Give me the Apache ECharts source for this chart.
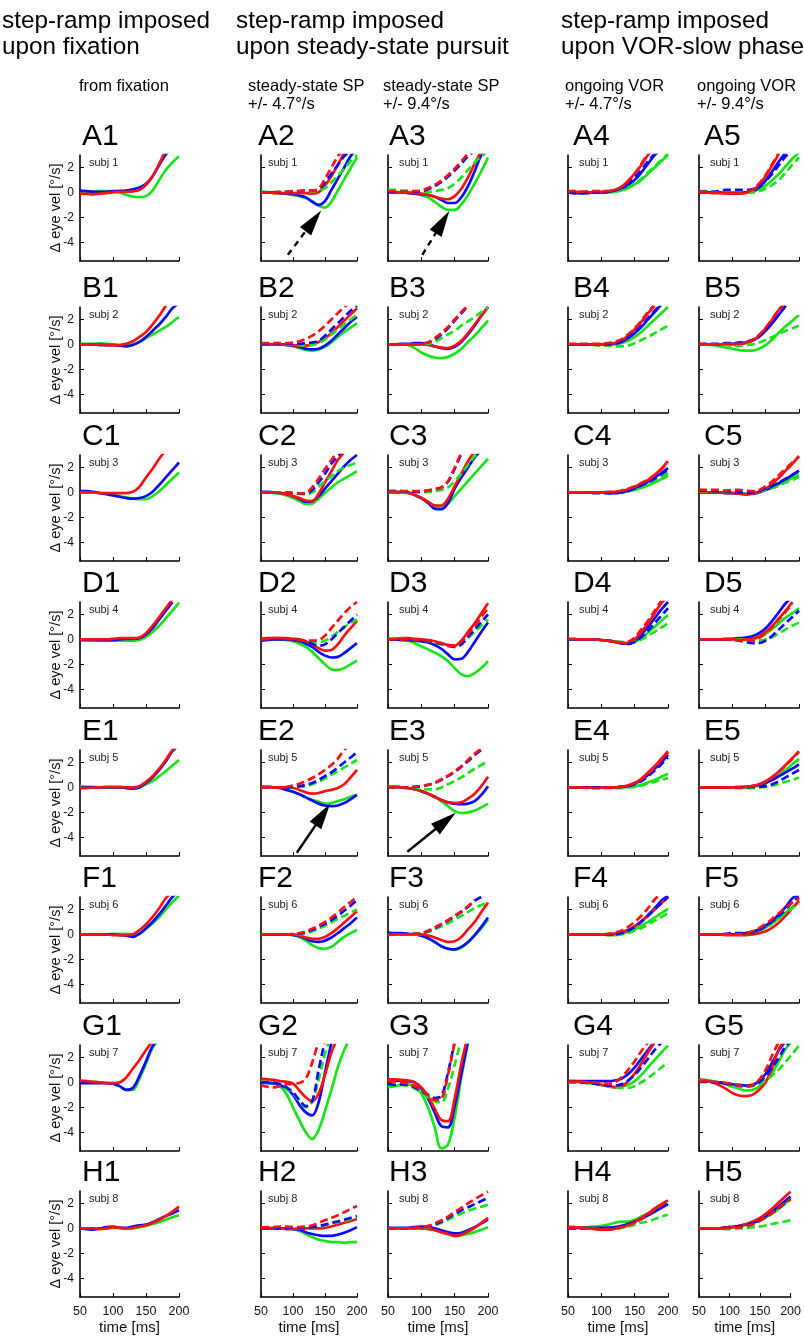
<!DOCTYPE html>
<html><head><meta charset="utf-8">
<script src="https://cdn.jsdelivr.net/npm/echarts@6/dist/echarts.min.js"></script>
<style>html,body{margin:0;padding:0;background:#fff}#c{width:804px;height:1336px}</style>
</head><body><div id="c"></div>
<script>
// ---------------- data ----------------
const timeMs = [50,60,70,80,90,100,110,120,130,140,150,160,170,180,190,200];
const xTickStep = 50;
const yTicks = [-4,-2,0,2];
const yRange = [-5.5, 3];
const rowLetters = ['A','B','C','D','E','F','G','H'];
const subjects = ['subj 1','subj 2','subj 3','subj 4','subj 5','subj 6','subj 7','subj 8'];
const headerTexts = [['step-ramp imposed','upon fixation'],['step-ramp imposed','upon steady-state pursuit'],['step-ramp imposed','upon VOR-slow phase']];
const subHeaderTexts = [['from fixation'],['steady-state SP','+/- 4.7°/s'],['steady-state SP','+/- 9.4°/s'],['ongoing VOR','+/- 4.7°/s'],['ongoing VOR','+/- 9.4°/s']];
const yName = 'Δ eye vel [°/s]';
const xName = 'time [ms]';
// line order: solid green, solid blue, solid red, dashed green, dashed blue, dashed red
const A1 = [
 [0.05,0.05,0.08,0.1,0.1,0.08,0,-0.2,-0.33,-0.38,-0.3,0.15,1.0,1.8,2.4,2.9],
 [0.15,0.1,0.05,0.05,0.05,0.1,0.12,0.15,0.25,0.4,0.7,1.3,2.2,3.05,3.6],
 [-0.1,-0.12,-0.15,-0.1,-0.05,0,0.05,0.05,0.08,0.2,0.6,1.3,2.3,3.4]];
const A2 = [
 [0,0,-0.05,-0.08,-0.12,-0.2,-0.3,-0.45,-0.7,-1.05,-1.22,-0.75,0.15,1.05,1.95,2.8],
 [0.05,0,0,-0.05,-0.1,-0.15,-0.25,-0.4,-0.75,-1.0,-0.7,0.2,1.1,2.0,2.9,3.5],
 [0,0,-0.05,-0.05,-0.05,-0.05,-0.05,-0.05,-0.1,0,0.55,1.3,2.2,3.2],
 [0.05,0.05,0.05,0.05,0.05,0.1,0.1,0.15,0.1,0.1,0.35,0.8,1.35,1.9,2.5,3.0],
 [0,0,0,0,0.05,0.05,0.1,0.15,0.15,0.25,0.8,1.5,2.2,2.9,3.4],
 [0,0,0,0.05,0.05,0.1,0.1,0.15,0.15,0.3,1.1,2.0,2.9,3.5]];
const A3 = [
 [0.05,0.05,0,0,-0.1,-0.2,-0.4,-0.75,-1.15,-1.4,-1.4,-0.95,-0.2,0.7,1.7,2.8],
 [0.05,0,0,-0.05,-0.1,-0.15,-0.2,-0.35,-0.6,-0.85,-0.85,-0.4,0.5,1.7,3.0,3.6],
 [0,0,0,0,-0.05,-0.1,-0.2,-0.35,-0.5,-0.55,-0.3,0.3,1.2,2.3,3.3],
 [0.2,0.2,0.15,0.15,0.1,0.05,0.05,0.1,0.2,0.35,0.7,1.2,1.8,2.4,2.9,3.3],
 [0.05,0.05,0.05,0.05,0.05,0.1,0.25,0.5,0.85,1.25,1.75,2.3,2.9,3.3],
 [0.1,0.1,0.05,0.05,0.1,0.15,0.35,0.6,0.95,1.4,1.9,2.5,3.1]];
const A4 = [
 [0,0,-0.05,-0.05,0,0,0,0.05,0.15,0.35,0.65,1.0,1.5,2.0,2.5,3.0],
 [0,-0.05,-0.05,-0.05,0,0,0.05,0.15,0.3,0.6,1.0,1.6,2.3,3.0,3.4],
 [0.05,0.05,0.05,0,0,0.05,0.1,0.2,0.45,0.9,1.5,2.2,3.0,3.5],
 [0,0,0,0.05,0.05,0.05,0.05,0.1,0.2,0.4,0.7,1.1,1.6,2.1,2.6,3.1],
 [0,-0.05,-0.05,0,0,0,0.05,0.15,0.35,0.7,1.2,1.8,2.5,3.1],
 [0.1,0.1,0.05,0.1,0.1,0.1,0.1,0.2,0.45,0.9,1.5,2.3,3.1]];
const A5 = [
 [0.05,0.05,0,0,0,0,0,0,0.05,0.25,0.55,1.0,1.5,2.1,2.7,3.2],
 [0,0,0,0,-0.05,-0.05,-0.05,0,0.1,0.4,0.95,1.7,2.5,3.2],
 [0,0,-0.05,-0.05,-0.05,-0.1,-0.1,-0.05,0.15,0.6,1.3,2.2,3.1],
 [0.1,0.1,0.05,0,0,0,0,0,0,0.1,0.3,0.6,1.0,1.6,2.2,2.8],
 [0.05,0.05,0.05,0.1,0.2,0.2,0.2,0.2,0.25,0.45,0.9,1.5,2.2,2.9,3.4],
 [0.05,0.05,0,0,-0.05,-0.05,-0.05,0,0.2,0.7,1.4,2.3,3.2]];
const B1 = [
 [0.05,0.05,0.05,0.1,0.05,0,-0.05,-0.05,0,0.2,0.5,0.8,1.1,1.4,1.8,2.2],
 [0,0,0,-0.05,-0.05,-0.05,-0.1,-0.15,-0.05,0.2,0.6,1.1,1.6,2.2,2.9,3.3],
 [0,0,0,0,-0.05,-0.05,-0.05,0.05,0.25,0.6,1.0,1.6,2.3,3.1]];
const B2 = [
 [0,0,0,0,-0.05,-0.15,-0.3,-0.45,-0.5,-0.4,-0.2,0.15,0.6,1.0,1.35,1.7],
 [0,0,0,0,-0.05,-0.1,-0.2,-0.35,-0.4,-0.35,-0.1,0.3,0.8,1.3,1.8,2.2],
 [0.05,0.05,0,0,0,-0.05,-0.1,-0.1,0,0.2,0.5,0.9,1.4,1.9,2.4,2.9],
 [0.05,0.05,0.05,0.05,0,0,-0.05,-0.1,-0.05,0.1,0.4,0.8,1.2,1.6,2.0,2.4],
 [0.05,0.05,0.05,0.05,0.05,0.05,0.05,0.1,0.15,0.3,0.7,1.2,1.7,2.2,2.7,3.1],
 [0.1,0.1,0.1,0.1,0.1,0.15,0.25,0.45,0.7,1.05,1.5,2.0,2.5,3.0,3.4]];
const B3 = [
 [0,0,0,-0.05,-0.3,-0.65,-0.9,-1.05,-1.1,-1.0,-0.75,-0.35,0.2,0.7,1.3,1.9],
 [0,0,0.05,0.05,0.1,0.1,0,-0.15,-0.3,-0.35,-0.2,0.2,0.8,1.5,2.3,3.0],
 [0,0,0,0,0,0,-0.05,-0.15,-0.25,-0.3,-0.1,0.3,0.9,1.6,2.3,3.0],
 [0,0,0,0,0,0,0.05,0.2,0.5,0.8,1.1,1.5,1.85,2.2,2.6,2.95],
 [0,0,0,0,0,0.05,0.15,0.4,0.8,1.3,1.9,2.5,3.1],
 [0,0,0,0,0,0.05,0.15,0.5,0.9,1.4,2.0,2.6,3.1]];
const B4 = [
 [0,0,0,0,0,0,0,0,0.1,0.3,0.6,1.0,1.5,2.0,2.5,3.0],
 [0,0,0,0,0,0,0,0.05,0.2,0.5,0.9,1.4,2.0,2.6,3.2],
 [0,0,0,0,0,0,0.05,0.1,0.3,0.7,1.2,1.8,2.5,3.1],
 [0,0,0,0,-0.05,-0.1,-0.1,-0.15,-0.15,-0.1,0.1,0.35,0.6,0.9,1.2,1.5],
 [0,0,0,0,0,0,0,0.05,0.25,0.55,1.0,1.5,2.1,2.7,3.2],
 [0.05,0.05,0.05,0.05,0.05,0.05,0.1,0.2,0.4,0.8,1.3,1.9,2.6,3.2]];
const B5 = [
 [0,0,-0.05,-0.15,-0.25,-0.35,-0.45,-0.5,-0.5,-0.35,-0.05,0.4,0.95,1.45,1.9,2.35],
 [0,0,0,0,0.05,0.05,0.1,0.15,0.3,0.6,1.1,1.7,2.4,3.1],
 [0,0,0,0,0,0,0,0.1,0.3,0.7,1.3,2.0,2.8,3.3],
 [0,0,0,0,-0.05,-0.1,-0.1,-0.05,0,0.15,0.35,0.6,0.85,1.1,1.3,1.5],
 [0.05,0.05,0.05,0.05,0.1,0.1,0.15,0.2,0.35,0.65,1.15,1.75,2.4,3.1],
 [0,0,0,0,0.05,0.05,0.05,0.15,0.35,0.75,1.35,2.05,2.8,3.3]];
const C1 = [
 [0,0,0,-0.05,-0.1,-0.2,-0.3,-0.4,-0.5,-0.55,-0.55,-0.3,0.1,0.6,1.1,1.6],
 [0.1,0.1,0.05,-0.05,-0.15,-0.25,-0.35,-0.45,-0.5,-0.45,-0.3,0.05,0.6,1.2,1.8,2.4],
 [0,0,0,-0.05,-0.05,-0.05,-0.05,-0.05,0.05,0.45,1.2,1.9,2.7,3.4]];
const C2 = [
 [0,0,-0.05,-0.1,-0.25,-0.45,-0.7,-0.95,-0.9,-0.5,-0.05,0.4,0.8,1.1,1.4,1.7],
 [0.05,0.05,0,-0.05,-0.15,-0.3,-0.5,-0.75,-0.7,-0.3,0.3,0.9,1.5,2.1,2.6,3.0],
 [0,0,0,-0.05,-0.15,-0.3,-0.45,-0.65,-0.7,-0.1,0.8,1.7,2.6,3.2],
 [0,0,0,0,0,-0.05,-0.1,-0.15,0,0.45,0.9,1.3,1.7,2.0,2.2,2.4],
 [0,0,0,0,0,-0.05,-0.1,-0.1,0.2,0.8,1.5,2.3,2.9,3.4],
 [0,0,0,0,0,-0.05,-0.1,-0.05,0.4,1.1,1.9,2.6,3.3]];
const C3 = [
 [0,0,0,-0.05,-0.2,-0.45,-0.75,-1.05,-1.2,-0.9,-0.3,0.3,0.9,1.5,2.1,2.7],
 [0.05,0.05,0.05,0,-0.2,-0.45,-0.85,-1.3,-1.35,-0.85,0.3,1.2,2.0,2.8,3.4],
 [0,0,0,-0.05,-0.2,-0.45,-0.75,-1.05,-1.05,-0.5,0.5,1.5,2.5,3.3],
 [0.05,0.05,0.05,0,0,0,0.05,0.1,0.2,0.4,0.9,1.5,2.2,2.9,3.3],
 [0.1,0.1,0.1,0.05,0.05,0.1,0.15,0.25,0.4,0.85,1.9,3.1],
 [0.1,0.1,0.1,0.1,0.1,0.1,0.15,0.25,0.4,0.9,2.0,3.2]];
const C4 = [
 [0,0,0,0,0,0,0,0,0,0.1,0.2,0.35,0.55,0.8,1.05,1.3],
 [0,0,0,0,0,0,-0.05,-0.05,0,0.15,0.35,0.6,0.85,1.2,1.55,1.95],
 [0,0,0,0,0,0,0,0.05,0.1,0.25,0.45,0.7,1.0,1.4,1.9,2.5],
 [0,0,0,0,0,0,0,0,0.05,0.1,0.25,0.45,0.7,0.95,1.2,1.5],
 [0,0,0,0,-0.05,-0.05,-0.05,-0.05,0,0.1,0.3,0.55,0.8,1.1,1.45,1.8],
 [0,0,0,0,0,0,0.05,0.05,0.15,0.3,0.5,0.75,1.05,1.4,1.85,2.35]];
const C5 = [
 [0,0,0,0,0,-0.05,-0.1,-0.1,-0.05,0.05,0.2,0.4,0.65,0.9,1.15,1.4],
 [0,0,0,0,-0.05,-0.05,-0.1,-0.15,-0.1,0,0.2,0.45,0.75,1.05,1.4,1.75],
 [0,0,0,0,-0.05,-0.05,-0.1,-0.15,-0.1,0.05,0.3,0.7,1.2,1.75,2.3,2.9],
 [0.1,0.1,0.1,0.1,0.1,0.1,0.1,0.05,0.05,0.1,0.2,0.35,0.55,0.8,1.0,1.25],
 [0.15,0.15,0.1,0.1,0.1,0.05,0,-0.05,0,0.1,0.3,0.5,0.8,1.1,1.4,1.7],
 [0.2,0.2,0.2,0.2,0.15,0.2,0.2,0.15,0.1,0.2,0.5,0.9,1.4,1.9,2.4,2.9]];
const D1 = [
 [0,-0.05,-0.05,-0.1,-0.1,-0.1,-0.1,-0.1,-0.1,-0.05,0.2,0.6,1.1,1.7,2.3,2.95],
 [-0.05,-0.05,-0.05,-0.05,-0.05,-0.05,0,0.05,0.05,0.1,0.4,0.9,1.6,2.3,3.0],
 [0,0,0,0,0,0.05,0.1,0.1,0.1,0.15,0.5,1.1,1.8,2.5,3.2]];
const D2 = [
 [-0.05,0,0,0,-0.05,-0.15,-0.35,-0.6,-1.0,-1.5,-2.0,-2.4,-2.45,-2.3,-2.0,-1.7],
 [-0.1,-0.05,0,0,0,-0.05,-0.15,-0.35,-0.6,-1.0,-1.3,-1.45,-1.4,-1.1,-0.7,-0.3],
 [0.05,0.1,0.1,0.1,0.1,0.05,0,-0.15,-0.4,-0.7,-0.9,-0.85,-0.4,0.3,0.9,1.5],
 [0,0,0,0,0,-0.05,-0.1,-0.15,-0.2,-0.2,-0.1,0.2,0.6,1.0,1.3,1.6],
 [-0.05,0,0,0,0,-0.05,-0.1,-0.2,-0.35,-0.5,-0.4,0,0.5,1.0,1.5,2.0],
 [0,0.05,0.1,0.1,0.05,0,-0.05,-0.1,-0.1,-0.05,0.3,0.9,1.5,2.1,2.6,3.0]];
const D3 = [
 [0.05,0.05,0,-0.1,-0.3,-0.55,-0.8,-1.05,-1.35,-1.75,-2.3,-2.8,-2.95,-2.7,-2.3,-1.75],
 [0,0,-0.05,-0.05,-0.1,-0.15,-0.25,-0.45,-0.75,-1.2,-1.6,-1.55,-1.0,-0.2,0.6,1.35],
 [0.05,0.05,0.1,0.1,0.05,0,-0.05,-0.15,-0.3,-0.45,-0.5,-0.1,0.6,1.3,2.1,2.9],
 [0.05,0.05,0.05,0,-0.05,-0.1,-0.15,-0.25,-0.4,-0.55,-0.6,-0.4,0.1,0.6,1.1,1.6],
 [0,0,0,0,-0.05,-0.1,-0.15,-0.25,-0.35,-0.5,-0.6,-0.4,0.2,0.8,1.4,2.0],
 [0,0,0,0,0,-0.05,-0.1,-0.2,-0.3,-0.5,-0.5,-0.2,0.4,1.1,1.8,2.5]];
const D4 = [
 [0,0,0,0,0,-0.05,-0.1,-0.15,-0.25,-0.3,-0.2,0.1,0.55,1.0,1.5,1.95],
 [0,0,0,0,0,-0.05,-0.1,-0.2,-0.3,-0.35,-0.15,0.4,1.0,1.7,2.4,3.0],
 [0,0,0,0,0,-0.05,-0.1,-0.2,-0.3,-0.3,0,0.6,1.3,2.1,2.9,3.4],
 [0,0,0,0,0,-0.05,-0.1,-0.15,-0.2,-0.25,-0.2,0,0.3,0.6,0.95,1.3],
 [0,0,0,0,0,-0.05,-0.1,-0.2,-0.3,-0.35,-0.2,0.2,0.7,1.3,1.9,2.5],
 [0.05,0.05,0,0,0,-0.05,-0.1,-0.2,-0.25,-0.2,0.15,0.8,1.5,2.3,3.1]];
const D5 = [
 [0,0,0,0,0,0,0,-0.05,0,0.15,0.45,0.85,1.3,1.75,2.1,2.5],
 [0,0,0,0,0.05,0.05,0.1,0.15,0.25,0.5,0.9,1.5,2.2,2.9,3.4],
 [0,0,0,0,0,0,0,0,0.05,0.25,0.6,1.1,1.7,2.3,3.0],
 [0,0,0,0,0,0,0,-0.05,-0.1,-0.1,0,0.2,0.5,0.8,1.1,1.35],
 [0,0,0,0,0,-0.05,-0.1,-0.2,-0.3,-0.3,-0.1,0.3,0.8,1.3,1.8,2.3],
 [0,0,0,0,0,0,-0.05,-0.1,-0.1,0.1,0.5,1.0,1.6,2.2,2.9]];
const E1 = [
 [0.1,0.05,0.05,0,0,0,0,0,0,0.05,0.25,0.5,0.9,1.3,1.75,2.2],
 [-0.05,0,0,0,0,0,0,-0.05,-0.1,0,0.35,0.8,1.4,2.1,2.9,3.4],
 [-0.05,-0.05,0,0,0.05,0.05,0.05,0,0,0.1,0.45,0.9,1.5,2.2,3.0,3.5]];
const E2 = [
 [0,0,0,-0.05,-0.2,-0.35,-0.55,-0.8,-1.0,-1.15,-1.3,-1.25,-1.1,-0.95,-0.75,-0.6],
 [0.05,0.05,0,-0.05,-0.2,-0.35,-0.55,-0.8,-1.05,-1.3,-1.45,-1.5,-1.45,-1.25,-0.95,-0.6],
 [0.05,0.05,0,0,0,-0.05,-0.2,-0.4,-0.5,-0.45,-0.3,-0.2,-0.05,0.25,0.8,1.4],
 [0,0,0,0,0,0,0.05,0.1,0.25,0.45,0.7,1.0,1.3,1.6,1.9,2.2],
 [0,0,0,0,0,0.05,0.1,0.2,0.35,0.6,0.9,1.2,1.6,2.0,2.4,2.8],
 [0,0,0,0,0.05,0.15,0.3,0.5,0.75,1.05,1.4,1.8,2.3,3.0,3.5]];
const E3 = [
 [0.1,0.05,0,-0.05,-0.15,-0.3,-0.5,-0.75,-1.1,-1.5,-1.9,-2.05,-2.0,-1.85,-1.6,-1.3],
 [0.05,0.05,0,-0.05,-0.15,-0.3,-0.5,-0.75,-1.0,-1.2,-1.3,-1.35,-1.3,-1.1,-0.6,0.1],
 [0.05,0.05,0,-0.05,-0.15,-0.3,-0.5,-0.75,-1.0,-1.2,-1.25,-1.2,-0.9,-0.5,0.1,0.85],
 [0.05,0.05,0,0,0,-0.1,-0.15,-0.15,0,0.25,0.5,0.8,1.15,1.5,1.8,2.1],
 [0,0,0,0,0.05,0.1,0.2,0.35,0.6,0.9,1.25,1.65,2.1,2.6,3.0],
 [0,0,0,0,0.05,0.1,0.2,0.4,0.65,0.95,1.3,1.7,2.2,2.7,3.1]];
const E4 = [
 [0,0,0,0,0,0,0,0,0,0.05,0.1,0.2,0.4,0.6,0.85,1.1],
 [0,0,0,0,0,0,0,0,0.05,0.1,0.3,0.6,1.0,1.5,2.0,2.6],
 [0,0,0,0,0,0,0,0,0.05,0.15,0.35,0.7,1.2,1.7,2.3,2.9],
 [0,0,0,0,-0.05,-0.05,-0.05,-0.05,-0.05,0,0.05,0.15,0.3,0.45,0.6,0.75],
 [0,0,0,0,0,0,0,0,0.05,0.1,0.25,0.5,0.9,1.35,1.85,2.4],
 [0,0,0,-0.05,-0.05,-0.05,0,0,0.05,0.15,0.35,0.65,1.1,1.6,2.2,2.8]];
const E5 = [
 [0,0,0,0,0,0,0,0,0.05,0.15,0.35,0.65,1.0,1.4,1.85,2.3],
 [0,0,0,0,0,0,0,0.05,0.1,0.2,0.35,0.6,0.9,1.2,1.5,1.85],
 [0,0,0,0,0,0,0.05,0.05,0.1,0.25,0.5,0.85,1.3,1.8,2.35,2.9],
 [0,0,0,0,0,-0.05,-0.05,-0.05,-0.05,0,0.05,0.15,0.3,0.45,0.6,0.8],
 [0,0,0,0,0,0,0,0,0.05,0.05,0.1,0.25,0.5,0.8,1.1,1.4],
 [0,0,0,0,0,0,0,0.05,0.1,0.25,0.45,0.8,1.25,1.75,2.3,2.85]];
const F1 = [
 [0,0,0,0,0,0.05,0.05,0.05,0,0.1,0.45,0.9,1.4,2.0,2.6,3.1],
 [0,0,0,0,0,0,-0.05,-0.1,-0.2,0.05,0.5,1.0,1.6,2.3,3.0,3.4],
 [0,0,0,0,0,-0.05,-0.05,-0.05,0,0.35,0.8,1.4,2.1,2.9,3.4]];
const F2 = [
 [0,0,0,0,0,-0.05,-0.2,-0.5,-0.85,-1.1,-1.15,-1.0,-0.6,-0.2,0.1,0.35],
 [0,0,0,0,0,-0.05,-0.15,-0.35,-0.55,-0.6,-0.5,-0.25,0.1,0.5,0.9,1.35],
 [0,0,0,0,0,0,-0.1,-0.25,-0.35,-0.35,-0.2,0.1,0.5,0.95,1.4,1.85],
 [0,0,0,0,0,0,0,0.1,0.25,0.45,0.7,0.95,1.25,1.5,1.75,2.0],
 [0,0,0,0,0,0,0.05,0.2,0.35,0.6,0.85,1.15,1.5,1.9,2.3,2.75],
 [0,0,0,0,0,0.05,0.1,0.25,0.45,0.7,1.0,1.35,1.75,2.2,2.6,3.0]];
const F3 = [
 [0,0,0,0,0,-0.1,-0.3,-0.6,-0.95,-1.15,-1.25,-1.05,-0.65,-0.1,0.5,1.2],
 [0.15,0.1,0.1,0.05,0,-0.1,-0.3,-0.6,-0.95,-1.15,-1.2,-1.0,-0.6,-0.05,0.6,1.35],
 [0,0,0,0,0,0,-0.1,-0.25,-0.45,-0.6,-0.55,-0.2,0.4,1.0,1.8,2.55],
 [0,0,0,0,0,0.05,0.2,0.4,0.65,0.9,1.2,1.5,1.8,2.1,2.35,2.55],
 [0.05,0.05,0.05,0.05,0.05,0.1,0.25,0.5,0.8,1.1,1.45,1.8,2.2,2.7,3.0],
 [0,0,0,0,0.05,0.1,0.3,0.55,0.85,1.15,1.5,1.85,2.25,2.8]];
const F4 = [
 [0,0,0,0,0,0,-0.05,-0.05,0.05,0.2,0.4,0.7,1.0,1.35,1.7,2.05],
 [0,0,0,0,0,0,0,0.05,0.15,0.35,0.65,1.05,1.55,2.1,2.7,3.1],
 [0,0,0,0,0,0,0,0.05,0.15,0.35,0.65,1.05,1.5,2.0,2.5,3.0],
 [0,0,0,0,0,0,-0.05,-0.05,0,0.1,0.3,0.5,0.8,1.1,1.4,1.7],
 [0,0,0,0,0,0,0,0,0.1,0.3,0.6,1.0,1.5,2.0,2.5,3.0],
 [0,0,0,0,0,0,0.05,0.15,0.3,0.6,1.0,1.5,2.1,2.8,3.3]];
const F5 = [
 [0,0,0,0,0,0,0,0.05,0.15,0.3,0.55,0.9,1.3,1.75,2.2,2.6],
 [0,0,0,0,0,0,0.05,0.1,0.2,0.4,0.7,1.1,1.6,2.2,2.9,3.2],
 [0,0,0,0,-0.05,-0.05,-0.05,-0.05,0,0.1,0.25,0.55,0.95,1.5,2.1,2.7],
 [0,0,0,0,0,0,0,0.05,0.15,0.3,0.55,0.9,1.3,1.7,2.1,2.5],
 [0,0,0,0,0.05,0.1,0.1,0.1,0.15,0.35,0.65,1.05,1.5,2.0,2.6,3.0],
 [0,0,0,0,0,0,0,0.1,0.25,0.5,0.85,1.25,1.7,2.15,2.55,2.9]];
const G1 = [
 [0.05,0.05,0.05,0,-0.05,-0.1,-0.3,-0.6,-0.6,0.3,1.5,2.8,3.4],
 [-0.05,-0.05,-0.05,-0.05,-0.05,-0.1,-0.3,-0.6,-0.45,0.5,1.7,2.9,3.5],
 [0.15,0.1,0.05,0,-0.05,-0.05,0,0.4,1.1,1.8,2.6,3.3]];
const G2 = [
 [0.1,0.05,0,-0.3,-0.95,-2.0,-3.05,-4.0,-4.55,-3.8,-2.3,-0.6,1.2,2.6,3.6],
 [0,-0.05,-0.1,-0.2,-0.5,-1.0,-1.8,-2.4,-2.65,-1.6,0.8,3.2],
 [0.3,0.25,0.2,0.1,0.05,-0.1,-0.65,-1.2,-1.5,-0.9,0.6,2.4,3.6],
 [0.05,0,-0.05,-0.2,-0.5,-0.9,-1.5,-2.0,-1.5,0.2,2.3,3.8],
 [0,0,-0.05,-0.15,-0.4,-0.8,-1.4,-1.9,-1.5,1.0,3.4],
 [-0.2,-0.35,-0.4,-0.3,-0.15,-0.1,-0.05,0.3,1.6,3.3]];
const G3 = [
 [-0.4,-0.3,-0.2,-0.15,-0.3,-0.9,-2.0,-3.6,-5.3,-5.0,-2.8,0.4,3.2],
 [0.15,0.15,0.15,0.1,0,-0.5,-1.3,-2.4,-3.5,-3.6,-1.9,0.7,3.3],
 [0.25,0.25,0.2,0.15,0,-0.4,-1.1,-2.1,-3.0,-3.1,-1.3,1.5,3.8],
 [-0.2,-0.25,-0.2,-0.3,-0.5,-0.8,-1.2,-1.5,-1.6,-0.5,1.4,3.5],
 [-0.1,-0.2,-0.15,-0.2,-0.4,-0.7,-1.0,-1.25,-1.1,0.8,3.3],
 [0.1,0.05,0,-0.1,-0.3,-0.6,-1.0,-1.4,-1.3,0.6,3.2]];
const G4 = [
 [0.05,0.05,0,-0.05,-0.1,-0.2,-0.3,-0.35,-0.3,-0.2,0.1,0.6,1.2,1.8,2.4,2.95],
 [0.1,0.1,0.1,0.1,0.1,0.1,0.1,0.15,0.3,0.65,1.2,1.9,2.6,3.3],
 [0.1,0.1,0.05,0,-0.1,-0.2,-0.3,-0.4,-0.35,0.1,0.7,1.5,2.4,3.2],
 [0,0,0,-0.05,-0.1,-0.2,-0.3,-0.4,-0.45,-0.45,-0.3,0,0.35,0.75,1.2,1.6],
 [0.05,0.05,0,-0.05,-0.1,-0.2,-0.25,-0.25,-0.15,0.15,0.6,1.2,1.9,2.6,3.2],
 [0.05,0.05,0.05,0,0,-0.05,-0.1,0,0.4,1.0,1.7,2.5,3.2]];
const G5 = [
 [0.2,0.2,0.1,0,-0.15,-0.35,-0.5,-0.65,-0.6,-0.35,0.1,0.8,1.7,2.7,3.3],
 [0.15,0.1,0.05,0,-0.05,-0.15,-0.2,-0.25,-0.2,0.1,0.7,1.6,2.6,3.3],
 [0.25,0.15,0,-0.2,-0.5,-0.85,-1.05,-1.1,-1.0,-0.6,0,1.2,2.7,3.5],
 [0.15,0.1,0.05,0,-0.1,-0.2,-0.3,-0.35,-0.3,-0.15,0.15,0.55,1.05,1.65,2.3,2.95],
 [0.05,0.05,0,-0.05,-0.1,-0.2,-0.25,-0.3,-0.25,0,0.5,1.2,2.0,2.9,3.4],
 [0.1,0.1,0.05,0,-0.05,-0.15,-0.25,-0.3,-0.2,0.2,1.0,2.2,3.3]];
const H1 = [
 [0,0,0,0,0,0.05,0.05,0,0,0.1,0.2,0.35,0.5,0.7,0.9,1.05],
 [0,-0.05,-0.1,0,0.1,0.15,0.05,0.05,0.15,0.25,0.3,0.5,0.75,1.0,1.2,1.45],
 [0,0,0,-0.05,0,0.1,0.05,0,0.05,0.15,0.25,0.45,0.7,1.0,1.35,1.75]];
const H2 = [
 [0,0,0,0,0,-0.05,-0.2,-0.45,-0.7,-0.9,-1.0,-1.1,-1.1,-1.15,-1.1,-1.1],
 [0,0,0,0,0,-0.05,-0.1,-0.3,-0.45,-0.55,-0.6,-0.6,-0.5,-0.35,-0.15,0.1],
 [0.1,0.05,0.05,0,-0.05,-0.05,0,0,0,0,0.05,0.15,0.3,0.45,0.6,0.75],
 [0,0,0,0,0,0,0.05,0.05,0.1,0.15,0.25,0.4,0.5,0.6,0.75,0.9],
 [0,0,0,0,0,0.05,0.05,0.05,0.1,0.2,0.3,0.45,0.55,0.7,0.85,1.0],
 [0.05,0.1,0.1,0.15,0.15,0.1,0.1,0.15,0.25,0.45,0.65,0.85,1.05,1.3,1.55,1.8]];
const H3 = [
 [0,0,0,0,0,0,-0.05,-0.15,-0.3,-0.45,-0.6,-0.55,-0.45,-0.3,-0.1,0.1],
 [0.05,0.05,0.05,0.05,0.1,0.15,0.1,0,-0.15,-0.3,-0.4,-0.35,-0.15,0.1,0.4,0.7],
 [0.05,0,0,0,0,0,-0.05,-0.15,-0.3,-0.45,-0.6,-0.5,-0.25,0.05,0.45,0.85],
 [0,0,0,0,0,0.05,0.1,0.25,0.45,0.7,0.95,1.2,1.4,1.6,1.75,1.9],
 [0,0,0,0,0.05,0.1,0.15,0.3,0.55,0.85,1.15,1.45,1.7,1.95,2.2,2.45],
 [0,0,0,0,0.05,0.1,0.2,0.4,0.65,0.95,1.3,1.65,2.0,2.35,2.65,2.95]];
const H4 = [
 [0.1,0.1,0.05,0.1,0.15,0.2,0.3,0.45,0.55,0.55,0.7,0.95,1.2,1.45,1.7,1.95],
 [0.1,0.05,0.05,0.05,0.05,0.05,0.05,0.1,0.2,0.35,0.55,0.8,1.05,1.35,1.65,1.95],
 [0.1,0.1,0.05,0,-0.05,-0.1,-0.1,-0.05,0.05,0.25,0.5,0.85,1.2,1.6,1.95,2.25],
 [0,0,0,0,0,0,0,0,0.05,0.15,0.3,0.45,0.55,0.75,0.95,1.1],
 [0,0,0,0,0,0,0.05,0.05,0.15,0.3,0.5,0.75,1.05,1.35,1.7,2.0],
 [0.05,0.05,0.05,0,0,-0.05,-0.05,0,0.1,0.25,0.45,0.75,1.1,1.5,1.85,2.2]];
const H5 = [
 [0.05,0,0,0,0,0.05,0.1,0.2,0.3,0.45,0.65,0.9,1.2,1.55,1.95,2.35],
 [0,0,0,0,0.05,0.1,0.15,0.25,0.35,0.5,0.7,1.0,1.35,1.75,2.15,2.55],
 [0,0,0,0,0.05,0.1,0.15,0.25,0.4,0.6,0.85,1.2,1.6,2.05,2.5,2.95],
 [0,0,0,0,-0.05,-0.05,0,0,0.05,0.1,0.15,0.25,0.35,0.45,0.55,0.65],
 [0,0,0,0,0.05,0.1,0.15,0.2,0.3,0.45,0.65,0.9,1.25,1.6,2.0,2.4],
 [0,0,0,0,0,0.05,0.05,0.1,0.2,0.35,0.6,0.9,1.25,1.65,2.0,2.35]];
// annotation arrows: tail and tip in (ms, °/s)
const arrowA2 = [[92,-5.0],[144,-1.45]];
const arrowA3 = [[101.5,-5.0],[142,-1.5]];
const arrowE2 = [[106,-5.24],[158,-1.32]];
const arrowE3 = [[79,-5.16],[151.5,-2.04]];

const panelData = {A1,A2,A3,A4,A5,B1,B2,B3,B4,B5,C1,C2,C3,C4,C5,D1,D2,D3,D4,D5,E1,E2,E3,E4,E5,F1,F2,F3,F4,F5,G1,G2,G3,G4,G5,H1,H2,H3,H4,H5};
const arrows = [
  {panel:'A2', pts:arrowA2, dashed:true},
  {panel:'A3', pts:arrowA3, dashed:true},
  {panel:'E2', pts:arrowE2, dashed:false},
  {panel:'E3', pts:arrowE3, dashed:false}
];

// ---------------- layout & style ----------------
const FONT = 'Liberation Sans, Arial, Helvetica, sans-serif';
const colLeft = [80, 261, 388, 568, 699];
const colWidth = [99, 96, 100, 100, 100];
const rowTop = [155, 307, 455, 602, 750, 897, 1045, 1191];
const plotH = 106;
const labelOff = [2, -3, 1, 5, 5];
const subjOff = [9, 7, 11, 11, 11];
const lineColors = ['#18e418','#0a0aff','#ff1010','#18e418','#0a0aff','#ff1010'];
const headLen = 26, headW = 14;

const grids = [], xAxes = [], yAxes = [], series = [], texts = [];
let gi = 0;
for (let r = 0; r < 8; r++) {
  for (let c = 0; c < 5; c++) {
    const name = rowLetters[r] + (c + 1);
    grids.push({left: colLeft[c], top: rowTop[r], width: colWidth[c], height: plotH, containLabel: false});
    const bottomRow = r === 7, firstCol = c === 0;
    xAxes.push({
      type: 'value', gridIndex: gi, min: 50, max: 200, interval: xTickStep,
      axisLine: {show: true, onZero: false, lineStyle: {color: '#000', width: 1.6}},
      axisTick: {show: true, inside: true, length: 4, lineStyle: {color: '#000', width: 1}},
      axisLabel: {show: bottomRow, fontSize: 12.5, color: '#111', margin: 8, fontFamily: FONT},
      splitLine: {show: false},
      name: bottomRow ? xName : '', nameLocation: 'middle', nameGap: 23,
      nameTextStyle: {fontSize: 15, color: '#111', fontFamily: FONT}
    });
    yAxes.push({
      type: 'value', gridIndex: gi, min: yRange[0], max: yRange[1],
      axisLine: {show: true, onZero: false, lineStyle: {color: '#000', width: 1.6}},
      axisTick: {show: true, inside: true, length: 4, customValues: yTicks, lineStyle: {color: '#000', width: 1}},
      axisLabel: {show: firstCol, customValues: yTicks, fontSize: 12, color: '#111', margin: 6, fontFamily: FONT},
      splitLine: {show: false},
      name: firstCol ? yName : '', nameLocation: 'middle', nameGap: 17, nameMoveOverlap: false,
      nameTextStyle: {fontSize: 14.5, color: '#111', fontFamily: FONT}
    });
    const lines = panelData[name];
    lines.forEach((vals, k) => {
      series.push({
        type: 'line', xAxisIndex: gi, yAxisIndex: gi, silent: true,
        data: vals.map((v, j) => [timeMs[j], v]),
        showSymbol: false, symbol: 'none', smooth: 0.35, clip: true,
        lineStyle: {color: lineColors[k], width: 2.7, type: k >= 3 ? [8, 4] : 'solid', cap: 'butt'},
        z: 2 + k, animation: false
      });
    });
    const ar = arrows.find(a => a.panel === name);
    if (ar) {
      const [tail, tip] = ar.pts;
      const pxX = colWidth[c] / 150, pxY = plotH / (yRange[1] - yRange[0]);
      const dx = (tip[0] - tail[0]) * pxX, dy = (tip[1] - tail[1]) * pxY;
      const k = (headLen / 2) / Math.hypot(dx, dy);
      const end = [tip[0] - (tip[0] - tail[0]) * k, tip[1] - (tip[1] - tail[1]) * k];
      series.push({
        type: 'line', xAxisIndex: gi, yAxisIndex: gi, data: [], silent: true, animation: false, z: 10,
        markLine: {
          silent: true, animation: false, symbol: ['none', 'triangle'], symbolSize: [headW, headLen],
          label: {show: false}, emphasis: {disabled: true},
          lineStyle: {color: '#000', width: 2.4, type: ar.dashed ? [6, 5] : 'solid', opacity: 1},
          itemStyle: {color: '#000'},
          data: [[{coord: tail}, {coord: end}]]
        }
      });
    }
    texts.push({type: 'text', silent: true, x: colLeft[c] + labelOff[c], y: rowTop[r] - 3,
      style: {text: name, fontSize: 30, fontFamily: FONT, fill: '#000', align: 'left', verticalAlign: 'bottom'}});
    texts.push({type: 'text', silent: true, x: colLeft[c] + subjOff[c], y: rowTop[r] + 8,
      style: {text: subjects[r], fontSize: 11, fontFamily: FONT, fill: '#222', align: 'left', verticalAlign: 'middle'}});
    gi++;
  }
}
const headerX = [2, 236, 561];
headerTexts.forEach((lines, i) => {
  lines.forEach((t, j) => texts.push({type: 'text', silent: true, x: headerX[i], y: 21 + j * 26,
    style: {text: t, fontSize: 24.3, fontFamily: FONT, fill: '#000', align: 'left', verticalAlign: 'middle'}}));
});
const subHeaderX = [79, 248, 383, 565, 697];
subHeaderTexts.forEach((lines, i) => {
  lines.forEach((t, j) => texts.push({type: 'text', silent: true, x: subHeaderX[i], y: 86 + j * 18,
    style: {text: t, fontSize: 16.5, fontFamily: FONT, fill: '#000', align: 'left', verticalAlign: 'middle'}}));
});

const chart = echarts.init(document.getElementById('c'), null, {renderer: 'canvas'});
chart.setOption({
  animation: false,
  backgroundColor: '#fff',
  grid: grids, xAxis: xAxes, yAxis: yAxes, series: series,
  graphic: {elements: texts}
});
</script></body></html>
